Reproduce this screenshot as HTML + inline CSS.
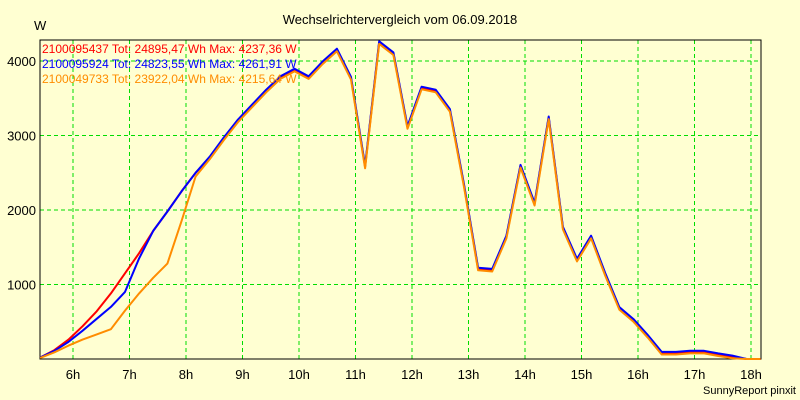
<!DOCTYPE html>
<html><head><meta charset="utf-8"><style>
body{margin:0;background:#ffffd2;}
svg{display:block;font-family:"Liberation Sans",sans-serif;}
</style></head><body>
<svg id="chart" width="800" height="400" viewBox="0 0 800 400">
<rect x="0" y="0" width="800" height="400" fill="#ffffd2"/>
<text x="400" y="24" text-anchor="middle" font-size="13" fill="#000">Wechselrichtervergleich vom 06.09.2018</text>
<text x="34" y="30" font-size="13" fill="#000">W</text>
<text x="796" y="394" text-anchor="end" font-size="11" fill="#000">SunnyReport pinxit</text>
<g id="grid"></g>
<g id="axes"></g>
<g id="series"></g>
<g id="legend"></g>
</svg>
<script>
const hourTicks=[6,7,8,9,10,11,12,13,14,15,16,17,18];
const valueTicks=[1000,2000,3000,4000];
const startHour=5.42, stepHour=0.25;
const common=[2700,2960,3200,3400,3600,3780,3880,3780,3980,4150,3770,2580,4250,4100,3110,3640,3600,3340,2330,1210,1195,1640,2590,2080,3240,1760,1330,1640,1140,680,520,310,80,80,95,95,60,30,0,0];
const redEarly=[20,120,260,440,640,880,1150,1420,1720,1980,2250,2500];
const blueEarly=[20,110,230,380,540,700,900,1350,1720,1980,2250,2500];
const orangeEarly=[15,90,180,260,330,400,650,880,1090,1280,1850,2450];
const seriesNames=["2100095437 Tot: 24895,47 Wh Max: 4237,36 W","2100095924 Tot: 24823,55 Wh Max: 4261,91 W","2100049733 Tot: 23922,04 Wh Max: 4215,64 W"];
const seriesColors=["#ff0000","#0000ff","#ff8c00"];
const seriesValues=[redEarly.concat(common),blueEarly.concat(common.map(v=>v>0?v+15:0)),orangeEarly.concat(common.map(v=>Math.max(0,v-20)))];

const L=40,R=761,T=40,B=359;
const xs=h=>73+(h-6)*56.5;
const ys=v=>B-v*0.0745;
const NS="http://www.w3.org/2000/svg";
function mk(tag,attrs,parent){const e=document.createElementNS(NS,tag);for(const k in attrs)e.setAttribute(k,attrs[k]);parent.appendChild(e);return e;}
const grid=document.getElementById('grid'),axes=document.getElementById('axes'),ser=document.getElementById('series'),leg=document.getElementById('legend');
hourTicks.forEach(h=>{
 const l=mk('line',{x1:xs(h),x2:xs(h),y1:T,y2:B,stroke:'#00dd00','stroke-dasharray':'4,3'},grid);
 
 
 const t=mk('text',{x:xs(h),y:379,'text-anchor':'middle','font-size':'13',fill:'#000'},axes);
 t.textContent=h+'h';
 
 
});
valueTicks.forEach(v=>{
 const l=mk('line',{x1:L,x2:R,y1:ys(v),y2:ys(v),stroke:'#00dd00','stroke-dasharray':'4,3'},grid);
 
 
 const t=mk('text',{x:36,y:ys(v)+5,'text-anchor':'end','font-size':'13',fill:'#000'},axes);
 t.textContent=v;
 
 
});
const frame=mk('rect',{x:L,y:T,width:R-L,height:B-T,fill:'none',stroke:'#000','stroke-width':1},axes);


seriesValues.forEach((vals,si)=>{
 const pts=vals.map((v,i)=>xs(startHour+i*stepHour).toFixed(1)+','+ys(v).toFixed(1)).join(' ');
 const p=mk('polyline',{points:pts,fill:'none',stroke:seriesColors[si],'stroke-width':2,'stroke-linejoin':'round'},ser);
 
 
 const t=mk('text',{x:42,y:53+si*15,'font-size':'12',fill:seriesColors[si]},leg);
 t.textContent=seriesNames[si];
 
 
});
</script>
</body></html>
